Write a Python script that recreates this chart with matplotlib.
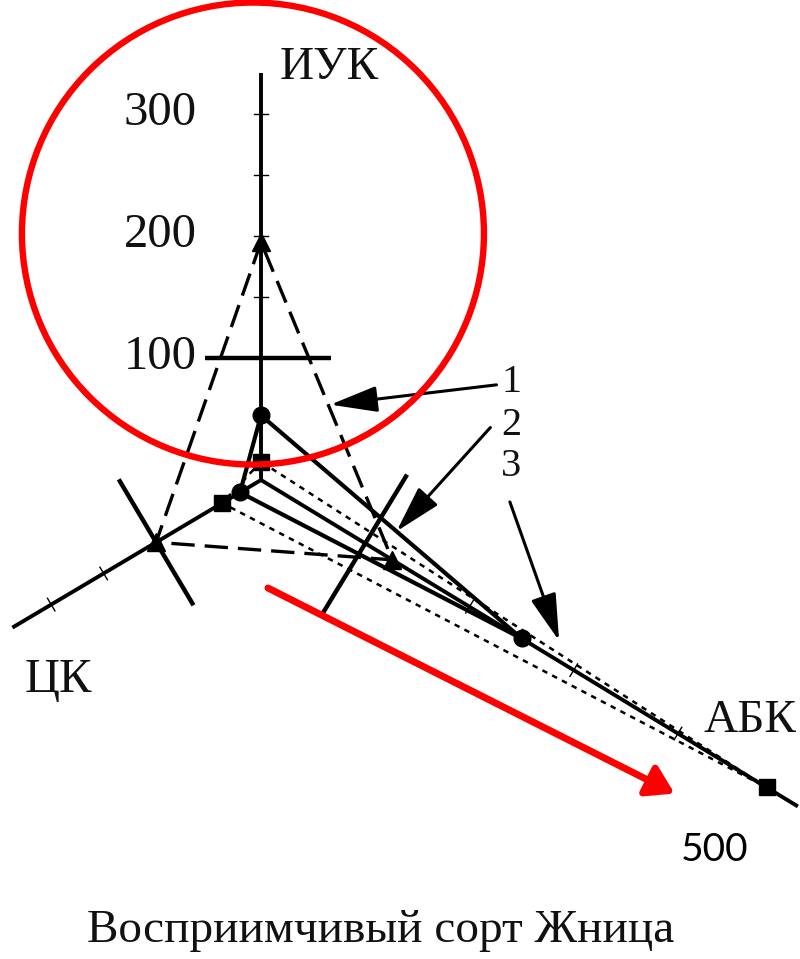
import numpy as np
import matplotlib
matplotlib.use("Agg")
import matplotlib.pyplot as plt
from matplotlib.patches import Ellipse

# ---- chart data ---------------------------------------------------------
axis_names = ["ИУК", "ЦК", "АБК"]
axis_angles_deg = [90.0, 210.7, -31.3]
axis_max = [334, 237, 515]
axis_minor_ticks = [[50, 150, 200, 250, 300], [150, 200], [200, 300, 400]]
iuk_tick_labels = [100, 200, 300]
crossbar_value = 100

series_names = ["1", "2", "3"]
iuk_values = [195, 53, 15]
ck_values = [100, 20, 37]
abk_values = [126, 250, 485]

highlight_value = 500
caption = "Восприимчивый сорт Жница"

# ---- layout -------------------------------------------------------------
W, H = 800, 959
PX = 1.22                      # pixels per unit
ORIGIN = (261, 480)            # pixel position of the common origin

fig = plt.figure(figsize=(W / 100, H / 100), dpi=100)
ax = fig.add_axes([0, 0, 1, 1])
ax.set_xlim(-ORIGIN[0] / PX, (W - ORIGIN[0]) / PX)
ax.set_ylim((ORIGIN[1] - H) / PX, ORIGIN[1] / PX)
ax.axis("off")

serif = ["Liberation Serif", "DejaVu Serif"]


def pt(value, angle_deg):
    a = np.deg2rad(angle_deg)
    return np.array([value * np.cos(a), value * np.sin(a)])


def unit_dir(angle_deg):
    return pt(1.0, angle_deg)


# ---- axes with ticks and cross-bars -------------------------------------
crossbar_half = [(46, 57), (60, 60), (66, 70)]
for name, ang, vmax, ticks, (cb_l, cb_r) in zip(
        axis_names, axis_angles_deg, axis_max, axis_minor_ticks, crossbar_half):
    end = pt(vmax, ang)
    ax.plot([0, end[0]], [0, end[1]], color="black", lw=2.8,
            solid_capstyle="butt", zorder=2)
    n = unit_dir(ang + 90)
    for t in ticks:
        c = pt(t, ang)
        a, b = c - n * 6, c + n * 6
        ax.plot([a[0], b[0]], [a[1], b[1]], color="black", lw=1.0, zorder=2)
    c = pt(crossbar_value, ang)
    a, b = c + n * cb_l, c - n * cb_r
    ax.plot([a[0], b[0]], [a[1], b[1]], color="black", lw=3.2,
            solid_capstyle="butt", zorder=2)

for v in iuk_tick_labels:
    ax.text(-52.5, v + 1, str(v), ha="right", va="center",
            fontsize=35, family=serif, color="#111111")

ax.text(56, 338, axis_names[0], ha="center", va="center",
        fontsize=34, family=serif, color="#111111")
ax.text(-166, -164, axis_names[1], ha="center", va="center",
        fontsize=35, family=serif, color="#111111")
ax.text(401, -197, axis_names[2], ha="center", va="center",
        fontsize=34, family=serif, color="#111111")

# ---- series triangles ---------------------------------------------------
styles = [
    dict(ls=(0, (7, 3)), lw=2.4, marker="^", ms=13),
    dict(ls="-", lw=3.0, marker="o", ms=12),
    dict(ls=(0, (2.2, 2.2)), lw=1.8, marker="s", ms=11),
]
series_points = []
for i, st in enumerate(styles):
    pts = [pt(iuk_values[i], axis_angles_deg[0]),
           pt(ck_values[i], axis_angles_deg[1]),
           pt(abk_values[i], axis_angles_deg[2])]
    series_points.append(pts)
    loop = np.array(pts + [pts[0]])
    ax.plot(loop[:, 0], loop[:, 1], color="black", ls=st["ls"], lw=st["lw"],
            zorder=3)
    arr = np.array(pts)
    ax.plot(arr[:, 0], arr[:, 1], ls="none", marker=st["marker"],
            ms=st["ms"], color="black", zorder=4)

# ---- series labels with pointer arrows ----------------------------------
label_pos = [(205, 80), (205, 45), (205, 11)]
arrow_tail = [(193, 78), (188, 43), (204, -18)]
arrow_frac = [0.5, 0.52, 0.58]
for i in range(3):
    p_top, p_abk = series_points[i][0], series_points[i][2]
    tip = p_top + (p_abk - p_top) * arrow_frac[i]
    if i == 0:
        tip = tip + np.array([3, -3])
    if i == 2:
        tip = tip + np.array([4, 8])
    ax.annotate("", xy=tip, xytext=arrow_tail[i],
                arrowprops=dict(arrowstyle="-|>,head_length=1.45,head_width=0.4",
                                mutation_scale=20, color="black", lw=2.2,
                                shrinkA=0, shrinkB=0), zorder=5)
    ax.text(label_pos[i][0], label_pos[i][1], series_names[i], ha="center",
            va="center", fontsize=29, family=serif, color="#111111")

# ---- red highlight ------------------------------------------------------
ax.add_patch(Ellipse((-6.6, 202.0), 378.7, 378.7, fill=False,
                     edgecolor="#ff0000", lw=4.6, zorder=6))
ax.annotate("", xy=(339, -257), xytext=(5.7, -88.5),
            arrowprops=dict(arrowstyle="-|>,head_length=0.8,head_width=0.5",
                            mutation_scale=20, color="#ff0000", lw=5.0,
                            shrinkA=0, shrinkB=0), zorder=6)
ax.text(372, -303, str(highlight_value), ha="center", va="center",
        fontsize=28, family=["Lato", "DejaVu Sans"], color="black")

fig.text(381 / W, 1 - 931 / H, caption, ha="center", va="center",
         fontsize=34, family=serif, color="#111111")

fig.savefig("out.png", dpi=100)
